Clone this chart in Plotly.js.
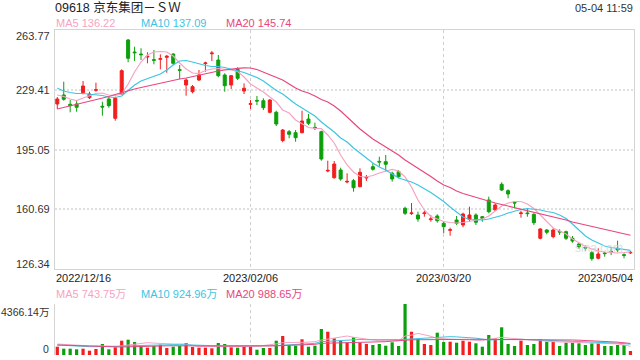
<!DOCTYPE html>
<html><head><meta charset="utf-8">
<script src="https://cdn.plot.ly/plotly-3.0.1.min.js"></script>
<style>html,body{margin:0;padding:0;background:#fff}#chart{width:640px;height:360px}</style>
</head><body><div id="chart"></div>
<script>
const dates = ['2022/12/16','2022/12/19','2022/12/20','2022/12/21','2022/12/22','2022/12/23','2022/12/28','2022/12/29','2022/12/30',
'2023/01/03','2023/01/04','2023/01/05','2023/01/06','2023/01/09','2023/01/10','2023/01/11','2023/01/12','2023/01/13','2023/01/16','2023/01/17','2023/01/18','2023/01/19','2023/01/20','2023/01/26','2023/01/27','2023/01/30','2023/01/31',
'2023/02/01','2023/02/02','2023/02/03','2023/02/06','2023/02/07','2023/02/08','2023/02/09','2023/02/10','2023/02/13','2023/02/14','2023/02/15','2023/02/16','2023/02/17','2023/02/20','2023/02/21','2023/02/22','2023/02/23','2023/02/24','2023/02/27','2023/02/28',
'2023/03/01','2023/03/02','2023/03/03','2023/03/06','2023/03/07','2023/03/08','2023/03/09','2023/03/10','2023/03/13','2023/03/14','2023/03/15','2023/03/16','2023/03/17','2023/03/20','2023/03/21','2023/03/22','2023/03/23','2023/03/24','2023/03/27','2023/03/28','2023/03/29','2023/03/30','2023/03/31',
'2023/04/03','2023/04/04','2023/04/06','2023/04/11','2023/04/12','2023/04/13','2023/04/14','2023/04/17','2023/04/18','2023/04/19','2023/04/20','2023/04/21','2023/04/24','2023/04/25','2023/04/26','2023/04/27','2023/04/28',
'2023/05/02','2023/05/03','2023/05/04'];

const open = [221.22,226.39,221.05,221.22,227.72,224.84,229.1,219.9,224.1,213.0,
226.97,258.02,251.12,249.97,248.25,246.7,246.92,248.07,249.97,240.94,
232.15,228.29,235.02,244.45,250.14,246.52,237.9,232.15,241.17,228.7,
221.05,223.29,223.12,216.45,216.45,200.2,205.29,204.72,204.72,212.6,
207.77,205.29,182.7,178.84,183.27,176.37,177.12,173.67,178.67,185.17,
188.21,188.04,181.37,182.3,161.25,158.2,157.4,158.2,154.75,156.82,
152.62,148.6,154.52,151.65,154.92,157.4,156.42,166.02,160.27,175.05,
171.37,164.7,158.2,158.55,157.8,143.99,148.77,144.92,147.97,147.79,
143.99,140.72,138.77,135.72,132.5,135.55,136.47,138.25,134.57,135.6];
const high = [225.25,234.04,223.52,223.12,234.45,228.29,233.47,222.54,225.25,225.42,
241.17,258.6,254.17,253.25,250.95,252.27,249.8,249.4,250.37,243.65,
236.0,232.15,240.77,245.54,251.7,249.4,238.87,237.9,242.32,233.12,
223.52,225.82,224.5,224.1,217.37,206.84,206.27,206.27,217.37,215.47,
210.47,205.87,188.62,188.45,184.6,181.37,178.1,184.25,180.4,187.12,
190.92,191.9,182.3,183.27,162.17,164.3,159.3,159.87,157.4,157.8,
153.54,150.1,156.82,158.72,162.17,158.37,156.82,167.92,164.12,176.2,
172.17,165.04,159.87,161.25,158.37,149.75,149.17,149.75,149.17,148.37,
145.32,141.47,139.97,136.7,138.25,136.3,138.25,142.62,135.37,136.7];
const low = [218.35,223.12,216.45,216.8,226.8,224.1,228.29,214.49,219.09,211.62,
226.4,245.2,245.95,246.52,244.62,244.05,241.17,239.2,243.65,235.6,
225.99,227.37,234.45,239.79,245.95,236.57,228.29,229.85,235.02,226.97,
218.35,220.65,217.77,215.87,208.57,199.2,201.5,199.54,204.37,209.14,
206.27,188.62,181.95,178.27,177.12,175.62,170.8,173.32,176.95,182.87,
185.17,182.3,176.54,178.5,157.4,157.4,153.54,156.42,153.54,152.97,
146.87,145.49,151.65,150.32,153.54,151.65,153.54,158.37,159.7,171.2,
166.99,161.25,155.85,156.42,151.65,143.42,146.3,143.99,145.9,143.02,
141.47,137.85,136.87,131.1,131.9,133.42,134.4,135.95,132.5,134.97];
const close = [224.1,223.92,220.24,219.32,231.57,226.97,229.44,219.5,220.24,224.5,
240.37,247.5,250.72,249.57,248.65,246.35,247.27,248.65,244.62,240.6,
235.02,231.17,237.9,244.8,250.49,237.49,231.74,237.49,236.0,230.25,
221.39,222.95,219.09,223.52,209.72,206.27,203.8,201.84,211.45,210.12,
207.42,189.6,183.04,186.72,178.1,176.72,173.1,181.95,179.02,183.67,
187.87,186.55,178.1,179.42,158.38,158.55,155.1,158.55,155.1,154.12,
150.67,148.94,152.62,157.97,157.4,153.2,155.5,159.3,163.15,171.77,
169.47,164.3,158.55,158.2,152.97,149.35,147.45,148.77,147.62,143.99,
142.4,139.17,138.42,132.27,134.97,135.2,136.12,137.27,134.22,135.89];

const ma5 = [226.4,225.54,224.1,223.23,224.67,225.82,227.26,227.55,226.4,226.11,
226.97,232.72,239.62,245.37,249.4,251.12,251.41,251.12,248.82,244.8,
241.35,239.05,238.76,240.48,241.35,241.63,241.35,240.77,239.91,236.75,
232.72,230.42,228.12,225.25,222.37,217.77,216.05,212.02,209.72,207.71,
207.25,207.13,203.4,198.8,191.9,186.15,182.12,179.53,179.25,180.11,
181.55,182.7,183.56,182.7,179.25,173.5,166.02,160.27,156.53,155.1,
153.66,153.08,152.8,153.08,153.66,154.23,155.1,156.82,159.7,162.57,
164.3,165.16,165.16,163.72,161.13,157.4,153.37,149.92,148.2,146.47,
143.6,141.3,139.28,137.85,136.7,136.12,135.84,135.55,135.84,136.22];
const ma10 = [230.25,228.7,227.84,227.26,227.26,226.97,226.69,226.11,225.25,224.96,
225.82,229.27,232.15,234.45,235.88,237.03,238.47,240.77,243.65,245.95,
246.24,245.37,244.22,243.36,242.78,242.78,242.21,241.35,240.48,239.33,
237.9,236.46,234.45,231.57,228.99,226.97,224.1,221.22,218.92,216.62,
214.32,210.87,207.99,205.12,201.67,199.37,195.92,193.05,190.17,187.3,
185.0,183.27,180.97,178.67,177.52,176.37,174.65,172.63,170.33,167.75,
165.16,162.0,159.12,156.24,154.81,154.52,154.52,155.1,155.96,157.11,
158.55,159.7,160.56,161.13,160.85,160.27,159.41,158.83,157.4,155.38,
152.22,148.77,145.32,143.02,141.3,139.57,138.71,138.14,137.56,137.09];
const ma20 = [218.35,219.21,220.07,220.93,221.8,222.66,223.52,224.67,225.54,226.69,
227.84,228.99,229.85,230.71,231.57,232.43,233.3,234.16,235.02,235.6,
236.17,237.03,237.9,238.64,239.45,240.2,240.77,241.35,241.75,242.04,
241.92,241.06,239.62,238.18,236.75,235.02,232.72,230.42,228.7,227.55,
225.82,223.81,222.37,220.07,217.2,213.72,210.3,206.84,203.97,201.1,
198.8,196.5,194.2,191.9,189.02,186.72,184.42,182.12,179.53,176.95,
174.65,173.2,171.2,169.76,168.61,167.46,166.31,165.16,164.3,163.43,
162.57,161.71,160.85,159.7,158.83,157.97,157.11,156.24,155.38,154.52,
153.37,152.51,151.65,151.07,150.21,149.35,148.49,147.62,146.47,145.74];

const volume = [711,540,540,488,540,368,514,942,488,659,
1224,1310,1113,770,625,770,882,599,711,770,
1027,685,625,625,574,1027,942,659,625,711,
711,454,599,599,1224,1626,830,796,1344,711,
796,2226,1994,1430,1224,1053,1515,1053,942,856,
942,796,1087,770,4366.14,1994,1344,942,856,1909,
1113,1138,1053,1224,1138,1002,711,1712,1430,2371,
942,770,1224,856,942,1344,1138,1138,770,1053,
1053,1002,856,1002,1002,770,770,856,856,342];
const volMa5 = [942,900,850,800,770,780,790,799,760,713,
780,850,913,990,1056,1020,980,942,942,942,
942,830,713,740,760,770,740,713,713,713,
713,760,810,856,950,1056,1056,1056,1056,1100,
1141,1284,1360,1440,1512,1626,1520,1427,1360,1290,
1227,1227,1227,1227,1626,1700,1850,1750,1600,1427,
1380,1341,1320,1300,1284,1250,1227,1350,1430,1512,
1450,1400,1370,1341,1290,1240,1190,1141,1120,1100,
1080,1070,1056,1040,1025,1010,999,950,850,743.75];
const volMa10 = [856,820,780,740,713,713,713,713,713,713,
740,770,799,820,845,865,884,884,884,884,
884,860,840,820,799,799,799,799,799,790,
780,775,770,770,800,840,880,913,940,970,
999,1141,1180,1220,1260,1300,1341,1330,1310,1300,
1290,1284,1300,1320,1341,1380,1427,1460,1500,1530,
1550,1569,1550,1530,1512,1440,1360,1284,1300,1320,
1330,1340,1341,1320,1290,1270,1250,1227,1210,1190,
1170,1155,1141,1120,1100,1080,1050,1010,970,924.96];
const volMa20 = [856,835,815,790,770,750,720,690,670,656,
680,700,725,750,770,775,780,785,790,795,
799,793,787,781,775,770,764,758,752,746,
742,753,764,776,787,799,822,845,868,890,
913,999,1010,1022,1033,1045,1056,1073,1090,1107,
1124,1141,1190,1240,1284,1295,1306,1318,1330,1341,
1341,1341,1341,1341,1341,1341,1341,1341,1341,1341,
1341,1341,1341,1341,1341,1330,1319,1307,1296,1290,
1284,1267,1250,1233,1215,1198,1150,1100,1045,988.65];

const priceTicks = [263.77, 229.41, 195.05, 160.69, 126.34];
const volTicks = [4366.14, 0];
const volTickText = ['4366.14万', '0'];
const dateLabels = ['2022/12/16', '2023/02/06', '2023/03/20', '2023/05/04'];
const titleText = '09618 京东集团－ＳＷ';
const timeText = '05-04 11:59';
const maNames = ['MA5', 'MA10', 'MA20'];

const RED = '#f31e1e', GREEN = '#0c9f0c';
const MA_COLORS = ['#f7a3c1', '#3cc5e2', '#e8477e'];
const FONT = '"Liberation Sans", Arial, "Noto Sans CJK SC", sans-serif';
const X0 = 55/640, X1 = 634/640;

const traces = [
  {type:'candlestick', x:dates, open:open, high:high, low:low, close:close, xaxis:'x', yaxis:'y',
   increasing:{line:{color:RED,width:1}, fillcolor:RED},
   decreasing:{line:{color:GREEN,width:1}, fillcolor:GREEN},
   whiskerwidth:0, hoverinfo:'skip'}
];
[ma5, ma10, ma20].forEach((m,k)=>traces.push({type:'scatter', mode:'lines', x:dates, y:m, xaxis:'x', yaxis:'y',
  line:{color:MA_COLORS[k], width:1.2}, hoverinfo:'skip'}));
traces.push({type:'bar', x:dates, y:volume, xaxis:'x2', yaxis:'y2', width:0.5,
  marker:{color: close.map((c,i)=> c >= open[i] ? RED : GREEN), line:{width:0}}, hoverinfo:'skip'});
[volMa5, volMa10, volMa20].forEach((m,k)=>traces.push({type:'scatter', mode:'lines', x:dates, y:m, xaxis:'x2', yaxis:'y2',
  line:{color:MA_COLORS[k], width:1}, hoverinfo:'skip'}));

const ann = [];
const gridDates = [dateLabels[1], dateLabels[2]];
priceTicks.forEach((v,i)=>ann.push({xref:'paper', yref:'y', x:51/640, y:v, xanchor:'right', yanchor:'middle',
  yshift: i===0 ? -5.5 : (i===priceTicks.length-1 ? 5.5 : 0), text: v.toFixed(2), showarrow:false, borderpad:0,
  font:{size:11, color:'#333', family:FONT}}));
volTicks.forEach((v,i)=>ann.push({xref:'paper', yref:'y2', x:50/640, y:v, xanchor:'right', yanchor:'middle',
  yshift: i===0 ? -7.5 : 6.5, text: volTickText[i], showarrow:false, borderpad:0,
  font:{size:10.5, color:'#333', family:FONT}}));
dateLabels.forEach((d,i)=>{
  const last = i===dateLabels.length-1, first = i===0;
  ann.push({xref: first||last ? 'x domain' : 'x', yref:'paper', x: first ? 0 : (last ? 1 : d), y:1-278/360,
    xanchor: first ? 'left' : (last ? 'right' : 'center'), yanchor:'middle', text:d, showarrow:false, borderpad:0,
    font:{size:11, color:'#222', family:FONT}});
});
const legX = [55/640, 140/640, 225/640];
[ma5, ma10, ma20].forEach((m,k)=>ann.push({xref:'paper', yref:'paper', x:legX[k], y:1-23/360, xanchor:'left', yanchor:'middle',
  text: maNames[k] + ' ' + m[m.length-1].toFixed(2), showarrow:false, borderpad:0, font:{size:11, color:MA_COLORS[k], family:FONT}}));
[volMa5, volMa10, volMa20].forEach((m,k)=>ann.push({xref:'paper', yref:'paper', x:legX[k], y:1-294/360, xanchor:'left', yanchor:'middle',
  text: maNames[k] + ' ' + m[m.length-1].toFixed(2) + '万', showarrow:false, borderpad:0, font:{size:11, color:MA_COLORS[k], family:FONT}}));
ann.push({xref:'paper', yref:'paper', x:634/640, y:1-7.5/360, xanchor:'right', yanchor:'middle', text:timeText, showarrow:false, borderpad:0,
  font:{size:11, color:'#333', family:FONT}});
ann.push({xref:'paper', yref:'paper', x:599/640, y:1-248/360, xanchor:'center', yanchor:'middle', text:'sina.com', showarrow:false,
  font:{size:12, color:'#d0d0d0', family:FONT}, opacity:0.7});

const xCommon = {type:'category', domain:[X0, X1], range:[-0.357, 89.55], tickmode:'array', tickvals:gridDates,
  showticklabels:false, ticks:'', showgrid:true, gridcolor:'#cfcfcf', gridwidth:1, griddash:'3px,3px', zeroline:false, fixedrange:true};

const layout = {
  width:640, height:360, margin:{l:0, r:0, t:0, b:0}, paper_bgcolor:'#fff', plot_bgcolor:'#fff',
  showlegend:false, boxgap:0.33, bargap:0.5, font:{family:FONT},
  title:{text:titleText, x:55/640, xanchor:'left', xref:'paper', y:1-7.5/360, yanchor:'middle', yref:'container',
    font:{size:12.5, color:'#222', family:'"Liberation Sans", "Noto Sans CJK SC", sans-serif'}},
  xaxis: Object.assign({}, xCommon, {anchor:'y', rangeslider:{visible:false}, showline:true, mirror:true, linecolor:'#d4d4d4', linewidth:1}),
  yaxis: {domain:[1-269/360, 1-30/360], range:[126.34, 263.77], tickmode:'array', tickvals:priceTicks.slice(1,-1),
    showticklabels:false, ticks:'', showgrid:true, gridcolor:'#e0e0e0', gridwidth:2, griddash:'2px,2px', zeroline:false,
    showline:true, mirror:true, linecolor:'#d4d4d4', linewidth:1, anchor:'x', fixedrange:true},
  xaxis2: Object.assign({}, xCommon, {anchor:'y2', showline:false}),
  yaxis2: {domain:[1-355/360, 1-304/360], range:[0, 4366.14], tickmode:'array', tickvals:volTicks,
    showticklabels:false, ticks:'', showgrid:true, gridcolor:'#dcdcdc', gridwidth:1.5, griddash:'2px,2px', zeroline:false,
    showline:true, linecolor:'#d4d4d4', linewidth:1, anchor:'x2', fixedrange:true},
  annotations: ann
};
Plotly.newPlot('chart', traces, layout, {staticPlot:true, displayModeBar:false});
</script></body></html>
